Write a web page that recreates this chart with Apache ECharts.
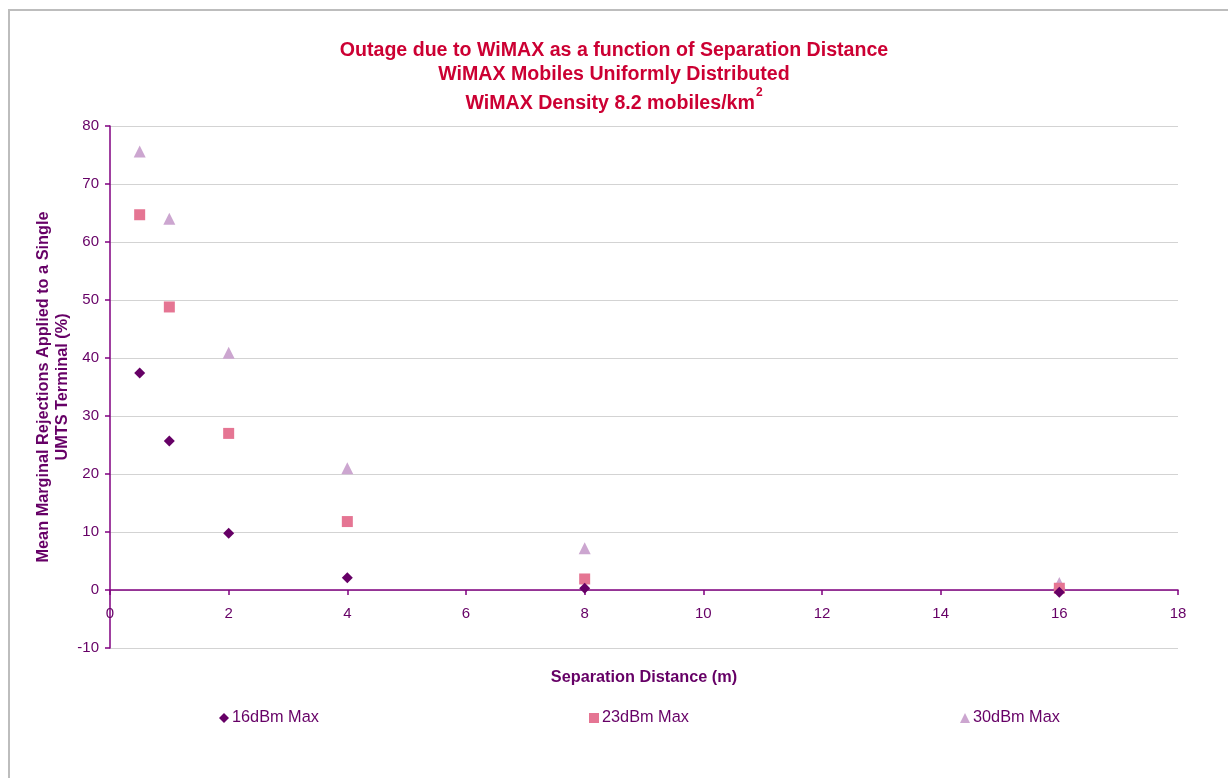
<!DOCTYPE html>
<html>
<head>
<meta charset="utf-8">
<script src="https://cdn.jsdelivr.net/npm/echarts@6/dist/echarts.min.js"></script>
<style>
  html, body { margin: 0; padding: 0; background: #fff; }
  #chart { width: 1228px; height: 778px; }
  #frame { position: absolute; left: 8px; top: 9px; width: 1240px; height: 800px;
           border-left: 2px solid #bdbdbd; border-top: 2px solid #bdbdbd; pointer-events: none; }
</style>
</head>
<body>
<div id="chart"></div>
<div id="frame"></div>
<script>
// Separation distances (m) and mean marginal rejections (%) per max WiMAX power
const distances = [0.5, 1, 2, 4, 8, 16];
const rej16dBm = [37.4, 25.7, 9.8, 2.1, 0.3, -0.4];
const rej23dBm = [64.7, 48.8, 27.0, 11.8, 1.9, 0.3];
const rej30dBm = [75.6, 64.0, 40.9, 21.0, 7.2, 1.2];
const seriesNames = ['16dBm Max', '23dBm Max', '30dBm Max'];
const titleLines = [
  'Outage due to WiMAX as a function of Separation Distance',
  'WiMAX Mobiles Uniformly Distributed',
  'WiMAX Density 8.2 mobiles/km'
];
const titleSup = '2';
const xAxisTitle = 'Separation Distance (m)';
const yAxisTitle = 'Mean Marginal Rejections Applied to a Single\nUMTS Terminal (%)';
const yMin = -10, yMax = 80, yStep = 10;

const FONT = 'Liberation Sans, Arial, sans-serif';
const TEXT = '#660066';
const AXIS = '#800080';
const colors = ['#660066', '#e57593', '#cca6d0'];
const symbols = ['diamond', 'rect', 'triangle'];
const symbolSizes = [11, 11, 12];

const gridTop = 126, gridBottom = 130, chartH = 778;
// the category axis sits on the y = 0 line; lift it by the height of the band below zero
const plotH = chartH - gridTop - gridBottom;
const zeroLift = plotH * (0 - yMin) / (yMax - yMin);

const pairs = v => distances.map((d, i) => [d, v[i]]);
const seriesData = [rej16dBm, rej23dBm, rej30dBm];

const chart = echarts.init(document.getElementById('chart'), null, { renderer: 'canvas' });

chart.setOption({
  backgroundColor: '#fff',
  animation: false,
  textStyle: { fontFamily: FONT },
  title: {
    left: 'center',
    top: 34,
    text: '{t|' + titleLines[0] + '}\n{t|' + titleLines[1] + '}\n{t|' + titleLines[2] + '}{s|' + titleSup + '}',
    textStyle: {
      rich: {
        t: { fontFamily: FONT, fontSize: 19.6, fontWeight: 'bold', color: '#cc0033', lineHeight: 24 },
        s: { fontFamily: FONT, fontSize: 12, fontWeight: 'bold', color: '#cc0033', verticalAlign: 'top', lineHeight: 34, padding: [0, 0, 0, 1] }
      }
    }
  },
  grid: { left: 110, right: 50, top: gridTop, bottom: gridBottom },
  xAxis: {
    type: 'value',
    min: 0, max: 18, interval: 2,
    offset: -zeroLift,
    name: xAxisTitle,
    nameLocation: 'middle',
    nameGap: 80,
    nameTextStyle: { color: TEXT, fontSize: 16.3, fontWeight: 'bold', fontFamily: FONT },
    axisLine: { onZero: false, lineStyle: { color: AXIS, width: 1.5 } },
    axisTick: { show: true, length: 5, lineStyle: { color: AXIS, width: 1.5 } },
    axisLabel: { color: TEXT, fontSize: 15, margin: 16, fontFamily: FONT },
    splitLine: { show: false }
  },
  yAxis: {
    type: 'value',
    min: yMin, max: yMax, interval: yStep,
    name: yAxisTitle,
    nameLocation: 'middle',
    nameGap: 38,
    nameMoveOverlap: false,
    nameRotate: 90,
    nameTextStyle: { color: TEXT, fontSize: 16.3, fontWeight: 'bold', fontFamily: FONT, lineHeight: 19 },
    axisLine: { show: true, lineStyle: { color: AXIS, width: 1.5 } },
    axisTick: { show: true, length: 5, lineStyle: { color: AXIS, width: 1.5 } },
    axisLabel: { color: TEXT, fontSize: 15, margin: 11, fontFamily: FONT },
    splitLine: { show: true, lineStyle: { color: '#d3d3d3', width: 1 } }
  },
  legend: seriesNames.map((n, i) => ({
    data: [{ name: n, icon: symbols[i] }],
    left: [214, 584, 955][i],
    top: 705,
    itemWidth: 10,
    itemHeight: 10,
    itemGap: 0,
    textStyle: { color: TEXT, fontSize: 16.3, fontFamily: FONT, padding: [0, 0, 0, -2] }
  })),
  series: seriesNames.map((n, i) => ({
    name: n,
    type: 'scatter',
    data: pairs(seriesData[i]),
    symbol: symbols[i],
    symbolSize: symbolSizes[i],
    itemStyle: { color: colors[i], opacity: 1 },
    z: 3 - i
  }))
});
</script>
</body>
</html>
